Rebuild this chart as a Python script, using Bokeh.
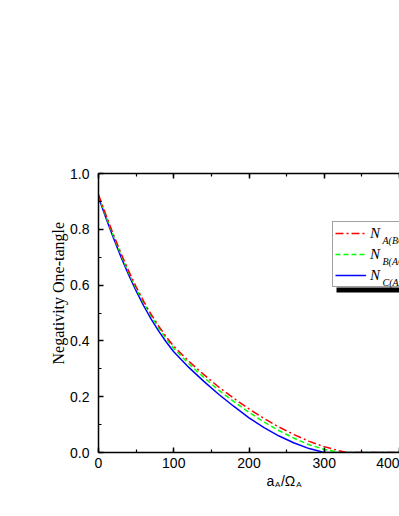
import math
from bokeh.plotting import figure
from bokeh.models import (Range1d, LinearAxis, Legend, LegendItem, Label, BoxAnnotation, Title,
                          SingleIntervalTicker, PrintfTickFormatter, CustomJSTickFormatter)
from bokeh.embed import file_html
from bokeh.resources import INLINE

# ---- data ----
x_vals = [0, 10, 20, 30, 40, 50, 60, 70, 80, 90, 100,
          120, 140, 160, 180, 200, 220, 240, 260, 280, 300,
          320, 330, 340, 360, 380, 400]
n_a_bc = [0.925, 0.851, 0.78, 0.713, 0.651, 0.594, 0.542, 0.495, 0.453, 0.415, 0.381,
          0.327, 0.279, 0.234, 0.194, 0.156, 0.122, 0.091, 0.064, 0.04, 0.021,
          0.006, 0.0, 0.0, 0.0, 0.0, 0.0]
n_b_ac = [0.92, 0.846, 0.775, 0.708, 0.645, 0.588, 0.536, 0.489, 0.446, 0.408, 0.373,
          0.318, 0.269, 0.223, 0.182, 0.144, 0.109, 0.078, 0.051, 0.028, 0.011,
          0.001, 0.0, 0.0, 0.0, 0.0, 0.0]
n_c_ab = [0.915, 0.84, 0.768, 0.70, 0.637, 0.579, 0.526, 0.478, 0.435, 0.396, 0.361,
          0.305, 0.255, 0.208, 0.165, 0.124, 0.089, 0.059, 0.034, 0.014, 0.0,
          0.0, 0.0, 0.0, 0.0, 0.0, 0.0]
series_names = ["N", "N", "N"]
series_subs = ["A(BC)", "B(AC)", "C(AB)"]
x_title_main = "a\u00a0\u2009/\u03a9"
x_title_subs = "A\u2003\u2003A"
y_title = "Negativity One-tangle"

p = figure(width=399, height=516, output_backend="svg", toolbar_location=None,
           x_range=Range1d(0, 400), y_range=Range1d(0, 1.0),
           min_border_left=98, min_border_right=0, min_border_top=173, min_border_bottom=64)
p.outline_line_color = None
p.grid.visible = False
p.background_fill_color = "white"
p.border_fill_color = "white"

xt = SingleIntervalTicker(interval=100, num_minor_ticks=2)
yt = SingleIntervalTicker(interval=0.2, num_minor_ticks=2)

def style_axis(ax):
    ax.axis_line_width = 1.5
    ax.axis_line_color = "black"
    ax.major_tick_in = 5
    ax.major_tick_out = 0
    ax.minor_tick_in = 3
    ax.minor_tick_out = 0
    ax.major_tick_line_width = 1.5
    ax.minor_tick_line_width = 1.2
    ax.major_label_text_font = "Liberation Sans"
    ax.major_label_text_font_size = "14px"
    ax.major_label_text_color = "black"

p.xaxis.ticker = xt
p.yaxis.ticker = yt
p.yaxis.formatter = PrintfTickFormatter(format="%.1f")
style_axis(p.xaxis[0])
style_axis(p.yaxis[0])
p.xaxis.major_label_standoff = 5
p.yaxis.major_label_standoff = 9

top = LinearAxis(ticker=SingleIntervalTicker(interval=100, num_minor_ticks=2),
                 formatter=CustomJSTickFormatter(code="return ''"))
style_axis(top)
p.add_layout(top, "above")

r_c = p.line(x_vals, n_c_ab, line_color="#0000FF", line_width=1.5)
r_b = p.line(x_vals, n_b_ac, line_color="#00FF00", line_width=1.5, line_dash="5 3")
r_a = p.line(x_vals, n_a_bc, line_color="#FF0000", line_width=1.5, line_dash="8 3 2 3")

# legend shadow (only the strip below the box shows)
shadow = BoxAnnotation(left=238, right=400, bottom=160, top=165,
                       left_units="screen", right_units="screen",
                       top_units="screen", bottom_units="screen",
                       fill_color="black", fill_alpha=1.0, line_color=None)
p.add_layout(shadow)

legend = Legend(items=[LegendItem(label=series_names[0], renderers=[r_a]),
                       LegendItem(label=series_names[1], renderers=[r_b]),
                       LegendItem(label=series_names[2], renderers=[r_c])],
                location=(234, 165),
                label_text_font="Liberation Serif", label_text_font_style="italic",
                label_text_font_size="15px", label_text_color="black",
                glyph_width=31, glyph_height=18, label_height=18, label_width=60,
                spacing=3, padding=2, margin=0, label_standoff=4,
                border_line_color="#444444", border_line_width=1,
                background_fill_color="white", background_fill_alpha=0.0)
p.add_layout(legend)

for i, s in enumerate(series_subs):
    p.add_layout(Label(x=284, y=212 - 21 * i, x_units="screen", y_units="screen",
                       text=s, text_font="Liberation Serif", text_font_style="italic",
                       text_font_size="10px", text_baseline="alphabetic", text_color="black",
                       level="overlay"))

p.add_layout(Title(text=y_title, align="left", offset=88, vertical_align="middle",
                   text_font="Liberation Serif", text_font_size="16px",
                   text_font_style="normal", text_color="black", standoff=0), "left")

p.add_layout(Label(x=168, y=6, x_units="screen", y_units="screen", text=x_title_main,
                   text_font="Liberation Sans", text_font_size="14px",
                   text_baseline="alphabetic", text_color="black"), "below")
p.add_layout(Label(x=176.5, y=11, x_units="screen", y_units="screen", text=x_title_subs,
                   text_font="Liberation Sans", text_font_size="8px",
                   text_baseline="alphabetic", text_color="black"), "below")

open("out.html", "w").write(file_html(p, INLINE))
